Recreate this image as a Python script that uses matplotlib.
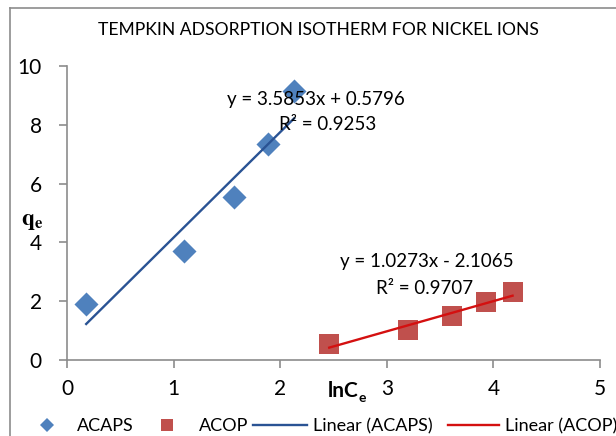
import matplotlib
matplotlib.use("Agg")
import matplotlib.pyplot as plt
from matplotlib.lines import Line2D
import numpy as np

plt.rcParams['font.family'] = ['Lato', 'DejaVu Sans']

title = "TEMPKIN ADSORPTION ISOTHERM FOR NICKEL IONS"
acaps_x = [0.18, 1.10, 1.57, 1.89, 2.13]
acaps_y = [1.90, 3.72, 5.54, 7.36, 9.16]
acop_x = [2.46, 3.20, 3.61, 3.93, 4.18]
acop_y = [0.56, 1.02, 1.50, 1.96, 2.30]
acaps_fit = (3.5853, 0.5796)
acop_fit = (1.0273, -2.1065)
acaps_eq = ["y = 3.5853x + 0.5796", "R² = 0.9253"]
acop_eq = ["y = 1.0273x - 2.1065", "R² = 0.9707"]
xticks = [0, 1, 2, 3, 4, 5]
yticks = [0, 2, 4, 6, 8, 10]
legend_labels = ["ACAPS", "ACOP", "Linear (ACAPS)", "Linear (ACOP)"]

blue = '#4F81BD'
red = '#C0504D'
blue_line = '#2A5394'
red_line = '#D41010'
grey = '#8C8C8C'

W, H = 616, 436
def fx(px):
    return px / W
def fy(py):
    return 1 - py / H

fig = plt.figure(figsize=(6.16, 4.36), dpi=100)
ax = fig.add_axes([fx(67), fy(360), (600 - 67) / W, (360 - 66) / H])

# outer chart frame (extends beyond the image on right and bottom)
fig.add_artist(Line2D([fx(10), fx(10)], [0, fy(8)], transform=fig.transFigure, color=grey, lw=1.2))
fig.add_artist(Line2D([fx(10), 1], [fy(8), fy(8)], transform=fig.transFigure, color=grey, lw=1.2))

ax.scatter(acaps_x, acaps_y, marker='D', s=150, color=blue, zorder=3, linewidths=0)
ax.scatter(acop_x, acop_y, marker='s', s=215, color=red, zorder=3, linewidths=0)

xa = np.array([min(acaps_x), max(acaps_x)])
ax.plot(xa, acaps_fit[0] * xa + acaps_fit[1], color=blue_line, lw=1.7, zorder=4)
xb = np.array([min(acop_x), max(acop_x)])
ax.plot(xb, acop_fit[0] * xb + acop_fit[1], color=red_line, lw=1.7, zorder=4)

ax.set_xlim(0, 5)
ax.set_ylim(0, 10)
ax.set_xticks(xticks)
ax.set_yticks(yticks)
for s in ['top', 'right']:
    ax.spines[s].set_visible(False)
for s in ['left', 'bottom']:
    ax.spines[s].set_color(grey)
    ax.spines[s].set_linewidth(1.2)
ax.tick_params(direction='out', length=6, width=1.2, color=grey, labelsize=15)
ax.tick_params(axis='x', pad=8)
ax.tick_params(axis='y', pad=12)

fig.text(fx(318), fy(30), title, ha='center', va='center', fontsize=12.6)
fig.text(fx(316), fy(100), acaps_eq[0], ha='center', va='center', fontsize=13.5)
fig.text(fx(328), fy(125), acaps_eq[1], ha='center', va='center', fontsize=13.5)
fig.text(fx(427), fy(262), acop_eq[0], ha='center', va='center', fontsize=13.5)
fig.text(fx(425), fy(289), acop_eq[1], ha='center', va='center', fontsize=13.5)

fig.text(fx(32), fy(222), r"$\mathbf{q_e}$", ha='center', va='center', fontsize=17,
         math_fontfamily='stix')
fig.text(fx(358), fy(391), "lnC", ha='right', va='center', fontsize=15, fontweight='bold')
fig.text(fx(358), fy(398), "e", ha='left', va='center', fontsize=10, fontweight='bold')

# legend drawn manually (last entry runs off the right edge as in the reference)
ly = fy(425)
base = fy(431)
lfs = 13
fig.add_artist(Line2D([fx(46.5)], [ly], transform=fig.transFigure, marker='D', color=blue,
                      ls='none', markersize=7.5, markeredgewidth=0))
fig.text(fx(77), base, legend_labels[0], ha='left', va='baseline', fontsize=lfs)
fig.add_artist(Line2D([fx(167)], [ly], transform=fig.transFigure, marker='s', color=red,
                      ls='none', markersize=8.8, markeredgewidth=0))
fig.text(fx(199), base, legend_labels[1], ha='left', va='baseline', fontsize=lfs)
fig.add_artist(Line2D([fx(253), fx(307)], [ly, ly], transform=fig.transFigure, color=blue_line, lw=1.7))
fig.text(fx(313), base, legend_labels[2], ha='left', va='baseline', fontsize=lfs)
fig.add_artist(Line2D([fx(448), fx(499)], [ly, ly], transform=fig.transFigure, color=red_line, lw=1.7))
fig.text(fx(505), base, legend_labels[3], ha='left', va='baseline', fontsize=lfs)

fig.savefig("out.png", dpi=100)
